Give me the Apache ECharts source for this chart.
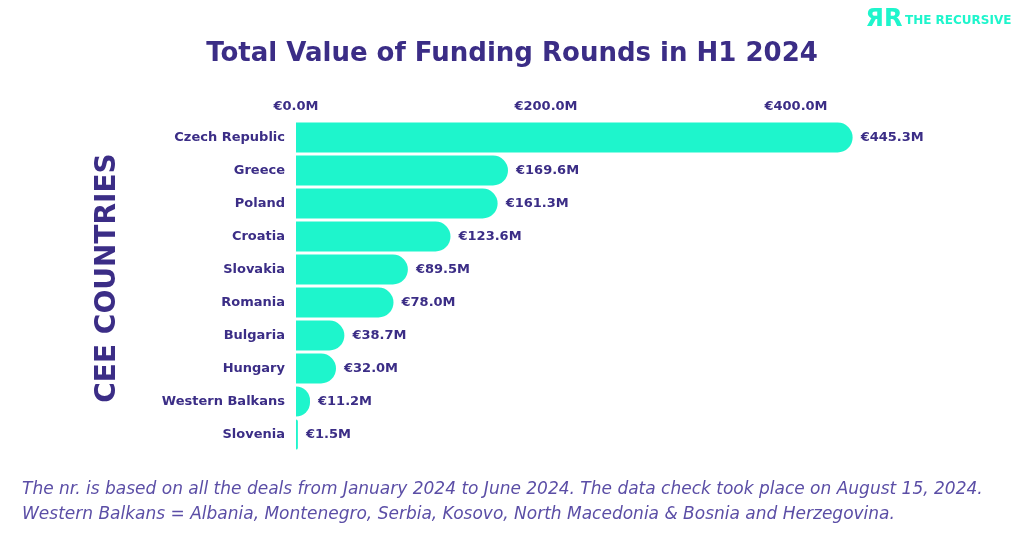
<!DOCTYPE html>
<html>
<head>
<meta charset="utf-8">
<script src="https://cdn.jsdelivr.net/npm/echarts@6/dist/echarts.min.js"></script>
<style>
  html, body { margin: 0; padding: 0; background: #fff; }
  #chart { width: 1024px; height: 537px; }
</style>
</head>
<body>
<div id="chart"></div>
<script>
// data
var countries = ['Czech Republic', 'Greece', 'Poland', 'Croatia', 'Slovakia',
                 'Romania', 'Bulgaria', 'Hungary', 'Western Balkans', 'Slovenia'];
var values = [445.3, 169.6, 161.3, 123.6, 89.5, 78.0, 38.7, 32.0, 11.2, 1.5];
var tickValues = [0, 200, 400];

var ink = '#3b2d86';
var teal = '#1ef5cc';
var font = 'DejaVu Sans';

var myChart = echarts.init(document.getElementById('chart'));
var option = {
    backgroundColor: '#fff',
    title: {
        text: 'Total Value of Funding Rounds in H1 2024',
        left: 'center',
        top: 36,
        textStyle: { fontFamily: font, fontSize: 26, fontWeight: 'bold', color: ink }
    },
    grid: { left: 296, width: 625, top: 121, height: 330 },
    xAxis: {
        type: 'value',
        position: 'top',
        min: 0,
        max: 500,
        interval: 200,
        splitLine: { show: false },
        axisLine: { show: false },
        axisTick: { show: false },
        axisLabel: {
            margin: 8,
            fontFamily: font, fontSize: 13, fontWeight: 'bold', color: ink,
            formatter: function (v) {
                return tickValues.indexOf(v) >= 0 ? '€' + v.toFixed(1) + 'M' : '';
            }
        }
    },
    yAxis: {
        type: 'category',
        inverse: true,
        data: countries,
        axisLine: { show: false },
        axisTick: { show: false },
        axisLabel: {
            margin: 11,
            fontFamily: font, fontSize: 13, fontWeight: 'bold', color: ink
        }
    },
    series: [{
        type: 'bar',
        data: values,
        barWidth: 30,
        itemStyle: { color: teal, borderRadius: [0, 15, 15, 0] },
        label: {
            show: true,
            position: 'right',
            distance: 8,
            fontFamily: font, fontSize: 13, fontWeight: 'bold', color: ink,
            formatter: function (p) { return '€' + p.value.toFixed(1) + 'M'; }
        }
    }],
    graphic: [
        {
            type: 'text',
            x: 108, y: 278,
            rotation: Math.PI / 2,
            style: {
                text: 'CEE COUNTRIES',
                fontFamily: font, fontSize: 28, fontWeight: 'bold', fill: ink,
                align: 'center', verticalAlign: 'middle'
            }
        },
        {
            type: 'text',
            x: 22, y: 490,
            style: {
                text: 'The nr. is based on all the deals from January 2024 to June 2024. The data check took place on August 15, 2024.',
                fontFamily: font, fontSize: 17, fontStyle: 'italic', fill: '#5b4ea6',
                verticalAlign: 'middle'
            }
        },
        {
            type: 'text',
            x: 22, y: 515,
            style: {
                text: 'Western Balkans = Albania, Montenegro, Serbia, Kosovo, North Macedonia & Bosnia and Herzegovina.',
                fontFamily: font, fontSize: 17, fontStyle: 'italic', fill: '#5b4ea6',
                verticalAlign: 'middle'
            }
        },
        {
            type: 'text',
            x: 884, y: 20,
            style: {
                text: 'ЯR',
                fontFamily: font, fontSize: 24, fontWeight: 'bold', fill: teal,
                align: 'center', verticalAlign: 'middle'
            }
        },
        {
            type: 'text',
            x: 905, y: 21,
            style: {
                text: 'THE RECURSIVE',
                fontFamily: font, fontSize: 12, fontWeight: 'bold', fill: teal,
                verticalAlign: 'middle'
            }
        }
    ]
};
myChart.setOption(option);
</script>
</body>
</html>
